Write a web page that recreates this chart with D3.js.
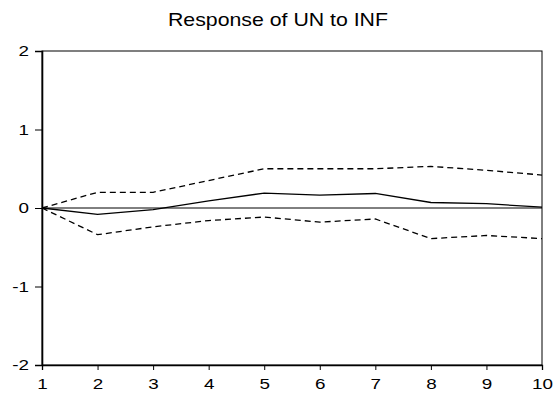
<!DOCTYPE html>
<html>
<head>
<meta charset="utf-8">
<script src="https://cdn.jsdelivr.net/npm/d3@7"></script>
<style>
  body { margin: 0; background: #fff; }
  svg text { font-family: "Liberation Sans", Arial, sans-serif; fill: #000; }
</style>
</head>
<body>
<div id="chart"></div>
<script>
// periods 1 - 10
const PERIODS = [1, 2, 3, 4, 5, 6, 7, 8, 9, 10];
const RESPONSE = [0, -0.08, -0.02, 0.09, 0.19, 0.165, 0.185, 0.07, 0.055, 0.01];
const UPPER = [0, 0.2, 0.2, 0.35, 0.5, 0.5, 0.5, 0.53, 0.48, 0.42];
const LOWER = [0, -0.34, -0.24, -0.16, -0.115, -0.18, -0.14, -0.39, -0.35, -0.39];
const Y_TICKS = [-2, -1, 0, 1, 2];
const TITLE = "Response of UN to INF";

// text in the original is stretched sideways
const STRETCH = 1.3;

const renderChart = ({ element, width, height, margin }) => {
  const [top, right, bottom, left] = margin;
  const w = width - left - right;
  const h = height - top - bottom;

  const x = d3.scaleLinear().range([0, w]).domain([1, 10]);
  const y = d3.scaleLinear().range([h, 0]).domain([-2, 2]);

  const svg = d3
    .select(element)
    .append("svg")
    .attr("width", width)
    .attr("height", height);

  svg.append("text")
    .attr("x", 278)
    .attr("y", 26)
    .attr("text-anchor", "middle")
    .attr("textLength", 220)
    .attr("lengthAdjust", "spacingAndGlyphs")
    .style("font-size", "19px")
    .text(TITLE);

  const g = svg.append("g").attr("transform", `translate(${left},${top})`);

  // frame
  g.append("rect")
    .attr("width", w)
    .attr("height", h)
    .attr("fill", "none")
    .attr("stroke", "#000")
    .attr("stroke-width", 1);

  const xAxis = g.append("g")
    .attr("transform", `translate(0,${h})`)
    .call(d3.axisBottom(x).tickValues(PERIODS).tickFormat((d) => String(d)).tickSize(5).tickPadding(9));
  xAxis.select(".domain").attr("stroke-width", 1.3);
  xAxis.selectAll("text")
    .style("font-size", "14.5px")
    .attr("font-family", null)
    .attr("transform", `scale(${STRETCH},1)`);

  const yAxis = g.append("g")
    .call(d3.axisLeft(y).tickValues(Y_TICKS).tickFormat((d) => String(d)).tickSize(7).tickPadding(7));
  yAxis.select(".domain").attr("stroke-width", 1.6);
  yAxis.selectAll("text")
    .style("font-size", "14.5px")
    .attr("font-family", null)
    .attr("x", -13 / STRETCH)
    .attr("transform", `scale(${STRETCH},1)`);

  // zero line
  g.append("line")
    .attr("x1", 0)
    .attr("x2", w)
    .attr("y1", y(0))
    .attr("y2", y(0))
    .attr("stroke", "#000")
    .attr("stroke-width", 1);

  const line = (vals) =>
    d3.line()
      .x((d, i) => x(PERIODS[i]))
      .y((d) => y(d))(vals);

  g.append("path")
    .attr("d", line(RESPONSE))
    .attr("fill", "none")
    .attr("stroke", "#000")
    .attr("stroke-width", 1.3);

  [UPPER, LOWER].forEach((band) => {
    g.append("path")
      .attr("d", line(band))
      .attr("fill", "none")
      .attr("stroke", "#000")
      .attr("stroke-width", 1.3)
      .attr("stroke-dasharray", "6,4");
  });
};

renderChart({
  element: "#chart",
  width: 556,
  height: 398,
  margin: [51, 14, 33, 42],
});
</script>
</body>
</html>
